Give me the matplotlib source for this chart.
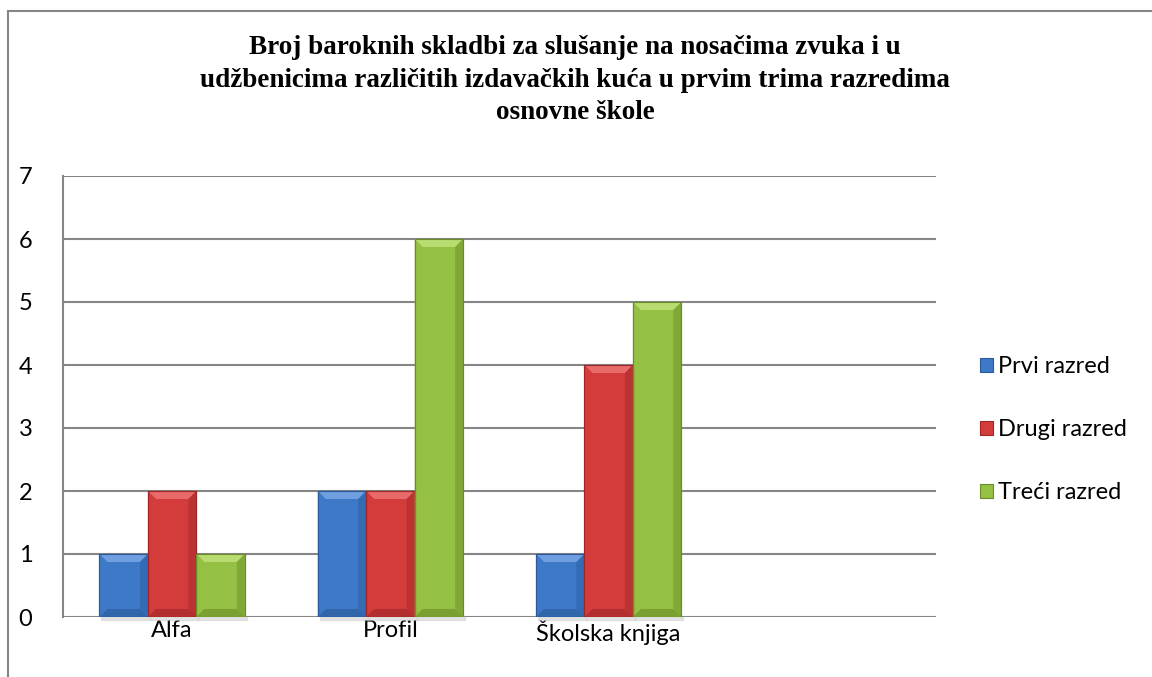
import matplotlib.pyplot as plt
from matplotlib.patches import Polygon, Rectangle

categories = ["Alfa", "Profil", "Školska knjiga", ""]
prvi = [1, 2, 1, None]
drugi = [2, 2, 4, None]
treci = [1, 6, 5, None]
series = ["Prvi razred", "Drugi razred", "Treći razred"]
colors = ["#3d79c6", "#d43c3c", "#94c043"]
dark = ["#2a5a9a", "#9e2626", "#6a8c28"]
light = ["#6f9fe0", "#e86a6a", "#b8dc70"]

title = ("Broj baroknih skladbi za slušanje na nosačima zvuka i u\n"
         "udžbenicima različitih izdavačkih kuća u prvim trima razredima\n"
         "osnovne škole")

W, H = 1152, 677
fig = plt.figure(figsize=(W / 100, H / 100), dpi=100)

# outer chart frame (right and bottom edges are cut off in the original)
fig.add_artist(plt.Line2D([8 / W, 8 / W], [0, 1 - 11 / H], transform=fig.transFigure,
                          color="#868686", lw=1.5))
fig.add_artist(plt.Line2D([8 / W, 1], [1 - 11 / H, 1 - 11 / H], transform=fig.transFigure,
                          color="#868686", lw=1.5))

x0, x1, y_top, y_bot = 63, 936, 176, 617
ax = fig.add_axes([x0 / W, 1 - y_bot / H, (x1 - x0) / W, (y_bot - y_top) / H])
ax.set_xlim(-0.5, 3.5)
ax.set_ylim(0, 7)

for s in ["top", "right", "bottom"]:
    ax.spines[s].set_visible(False)
ax.spines["left"].set_color("#868686")
ax.spines["left"].set_linewidth(1.5)
ax.yaxis.grid(True, color="#868686", lw=1.5)
ax.set_axisbelow(True)
ax.tick_params(length=0, labelsize=17, pad=22)
ax.set_yticks(range(8))
ax.set_xticks(range(4))
ax.set_xticklabels(categories)
ax.tick_params(axis="x", pad=2)
for lab in ax.get_xticklabels() + ax.get_yticklabels():
    lab.set_fontfamily("Lato")

width = 0.222
px_x = 4 / (x1 - x0)
px_y = 7 / (y_bot - y_top)
bev = 8

data = [prvi, drugi, treci]
for i, vals in enumerate(data):
    xs = [k + (i - 1) * width for k in range(4) if vals[k] is not None]
    hs = [v for v in vals if v is not None]
    ax.bar(xs, hs, width=width, color=colors[i], edgecolor=dark[i], lw=0.8,
           label=series[i], zorder=3)
    for xc, h in zip(xs, hs):
        l, r = xc - width / 2, xc + width / 2
        dx, dy = bev * px_x, bev * px_y
        # soft shadow below bar
        ax.add_patch(Rectangle((l + 2 * px_x, -3 * px_y), width, 3 * px_y,
                               color="#cccccc", alpha=0.5, zorder=2, clip_on=False))
        # top bevel
        ax.add_patch(Polygon([(l, h), (r, h), (r - dx, h - dy), (l + dx, h - dy)],
                             color=light[i], zorder=4, lw=0))
        # side bevels
        ax.add_patch(Polygon([(l, h), (l + dx, h - dy), (l + dx, dy), (l, 0)],
                             color=colors[i], alpha=0.6, zorder=4, lw=0))
        ax.add_patch(Polygon([(r, h), (r - dx, h - dy), (r - dx, dy), (r, 0)],
                             color=dark[i], alpha=0.45, zorder=4, lw=0))
        ax.add_patch(Polygon([(l, 0), (r, 0), (r - dx, dy), (l + dx, dy)],
                             color=dark[i], alpha=0.6, zorder=4, lw=0))
        ax.add_patch(Rectangle((l, 0), width, h, fill=False, edgecolor=dark[i],
                               lw=0.8, zorder=5))

fig.text(575 / W, 1 - 35 / H, title, ha="center", va="top", fontsize=19.5,
         fontweight="bold", family="Liberation Serif", linespacing=1.4)

leg = fig.legend(loc="upper left", bbox_to_anchor=(959 / W, 1 - 335 / H),
                 frameon=False, prop={"family": "Lato", "size": 17},
                 handlelength=0.55, handleheight=0.55, handletextpad=0.2,
                 labelspacing=1.78)

fig.savefig("out.png", dpi=100)
